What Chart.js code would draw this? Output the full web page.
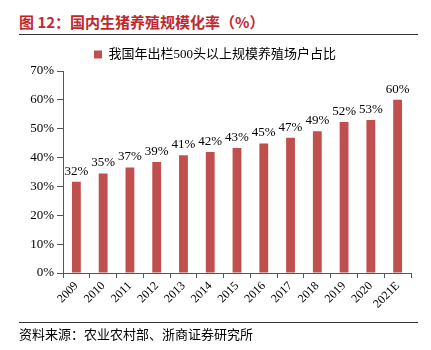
<!DOCTYPE html>
<html>
<head>
<meta charset="utf-8">
<script src="https://cdn.jsdelivr.net/npm/chart.js@4.4.1/dist/chart.umd.min.js"></script>
<style>
    html, body { margin: 0; padding: 0; background: #fff; }
    #wrap { position: relative; width: 431px; height: 350px; overflow: hidden; }
    #chart { position: absolute; left: 0; top: 0; }
    .title {
        position: absolute; left: 19px; top: 12px;
        font-family: "Noto Sans CJK SC", sans-serif; font-weight: bold;
        font-size: 15px; color: #C0282D; line-height: 20px; white-space: nowrap;
    }
    .rule { position: absolute; left: 19px; width: 399px; height: 1px; background: #333; }
    .source {
        position: absolute; left: 19px; top: 326px;
        font-family: "Liberation Serif", "Noto Sans CJK SC", serif;
        font-size: 13px; color: #000; line-height: 18px; white-space: nowrap;
    }
</style>
</head>
<body>
<div id="wrap">
    <div class="title">图 12：国内生猪养殖规模化率（%）</div>
    <div class="rule" style="top:34px"></div>
    <canvas id="chart" width="431" height="350"></canvas>
    <div class="rule" style="top:322px"></div>
    <div class="source">资料来源：农业农村部、浙商证券研究所</div>
</div>
<script>
    var years = ['2009', '2010', '2011', '2012', '2013', '2014', '2015', '2016', '2017', '2018', '2019', '2020', '2021E'];
    var scaleShare = [31.6, 34.5, 36.6, 38.5, 40.8, 41.9, 43.3, 44.9, 46.9, 49.1, 52.3, 53.0, 60.0];
    var seriesName = '我国年出栏500头以上规模养殖场户占比';
    var barColor = '#C0504D';
    var serifFont = '"Liberation Serif", "Noto Sans CJK SC", serif';

    // value labels above each bar
    var valueLabels = {
        id: 'valueLabels',
        afterDatasetsDraw: function (chart) {
            var ctx = chart.ctx;
            var meta = chart.getDatasetMeta(0);
            ctx.save();
            ctx.font = '13px ' + serifFont;
            ctx.fillStyle = '#000';
            ctx.textAlign = 'center';
            ctx.textBaseline = 'bottom';
            meta.data.forEach(function (bar, i) {
                ctx.fillText(Math.round(scaleShare[i]) + '%', bar.x, bar.y - 4);
            });
            ctx.restore();
        }
    };

    new Chart(document.getElementById('chart'), {
        type: 'bar',
        data: {
            labels: years,
            datasets: [
                {
                    label: seriesName,
                    data: scaleShare,
                    backgroundColor: barColor,
                    barPercentage: 0.33,
                    categoryPercentage: 1.0
                }
            ]
        },
        options: {
            responsive: false,
            animation: false,
            layout: { padding: { top: 44, left: 19, right: 20, bottom: 29 } },
            plugins: {
                legend: {
                    position: 'top',
                    labels: {
                        boxWidth: 8,
                        boxHeight: 8,
                        padding: 4,
                        color: '#000',
                        font: { family: serifFont, size: 13 }
                    }
                },
                tooltip: { enabled: false }
            },
            scales: {
                x: {
                    grid: { drawOnChartArea: false, tickLength: 5, color: '#555' },
                    border: { color: '#555' },
                    ticks: {
                        minRotation: 45,
                        maxRotation: 45,
                        color: '#000',
                        padding: 1,
                        font: { family: serifFont, size: 12 }
                    },
                    afterFit: function (scale) { scale.height = 48; }
                },
                y: {
                    min: 0,
                    max: 70,
                    grid: { drawOnChartArea: false, tickLength: 6, color: '#555' },
                    border: { color: '#555' },
                    ticks: {
                        stepSize: 10,
                        color: '#000',
                        padding: 3,
                        font: { family: serifFont, size: 13 },
                        callback: function (v) { return v + '%'; }
                    },
                    afterFit: function (scale) { scale.width = 44; }
                }
            }
        },
        plugins: [valueLabels]
    });
</script>
</body>
</html>
